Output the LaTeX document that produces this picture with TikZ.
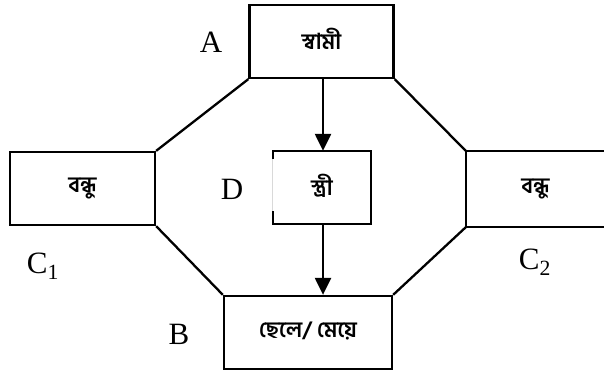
\documentclass[tikz,border=0pt]{standalone}
\usepackage{fontspec}
\setmainfont{Liberation Serif}
\newfontfamily\bnfont[Script=Bengali]{Hind Siliguri}
\usetikzlibrary{arrows.meta}
\newcommand{\upbn}[1]{\raisebox{6pt}{#1}}
\begin{document}
\begin{tikzpicture}[x=1pt,y=-1pt,
  box/.style={draw,line width=2.3pt,minimum width=#1,inner sep=0pt,font=\bnfont\bfseries\fontsize{22}{26}\selectfont},
  lbl/.style={font=\fontsize{31}{34}\selectfont,inner sep=0pt},
  edge/.style={line width=2.3pt},
  arr/.style={line width=2.3pt,-{Triangle[length=17pt,width=16pt]}}]
\useasboundingbox (0,0) rectangle (604,374);
\node[box=144pt,minimum height=73pt] (A) at (321.5,41.5) {\upbn{স্বামী}};
\node[box=96pt,minimum height=71pt,draw=none] (S) at (322,187.5) {\upbn{স্ত্রী}};
\node[box=168pt,minimum height=73pt] (B) at (308,332.5) {\upbn{ছেলে/ মেয়ে}};
\node[box=145pt,minimum height=73pt] (L) at (82.5,188.5) {\upbn{বন্ধু}};
\node[box=137pt,minimum height=74pt,draw=none] (R) at (535.5,189) {\upbn{বন্ধু}};
\draw[edge] (R.north east) -- (R.north west) -- (R.south west) -- (R.south east);
% stri box with a broken left side
\coordinate (g1) at ([yshift=-8pt]S.north west);
\coordinate (g2) at ([yshift=13pt]S.south west);
\draw[edge] (g1) -- (S.north west) -- (S.north east) -- (S.south east) -- (S.south west) -- (g2);
\draw[line width=1pt,black!15] (g1) -- (g2);
% connectors
\coordinate (a1) at (A.south -| 323,0);
\coordinate (a2) at (S.north -| 323,0);
\coordinate (b1) at (S.south -| 323,0);
\coordinate (b2) at (B.north -| 323,0);
\draw[arr] (a1) -- (a2);
\draw[arr] (b1) -- (b2);
\draw[edge] (A.south west) -- (L.north east);
\draw[edge] (L.south east) -- (B.north west);
\draw[edge] (A.south east) -- (R.north west);
\draw[edge] (R.south west) -- (B.north east);
% labels
\node[lbl] (la) at (211,42) {A};
\node[lbl] (ld) at (232,189) {D};
\node[lbl] (lc1) at (43,266) {C\textsubscript{1}};
\node[lbl] (lc2) at (535,262) {C\textsubscript{2}};
\node[lbl] (lb) at (179,334) {B};
\end{tikzpicture}
\end{document}
